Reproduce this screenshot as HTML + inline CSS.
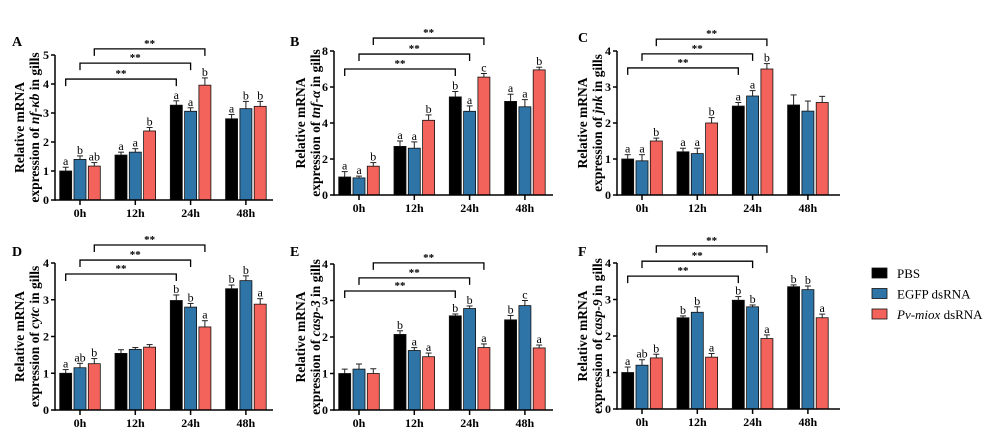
<!DOCTYPE html>
<html><head><meta charset="utf-8">
<style>
body{margin:0;background:#fff;}
svg{display:block;font-family:"Liberation Serif","DejaVu Serif",serif;}
.tk{font-size:12px;font-weight:bold;}
.yt{font-size:13.5px;font-weight:bold;}
.lt{font-size:12px;}
</style></head>
<body>
<svg id="chart" width="997" height="439" viewBox="0 0 997 439" xmlns="http://www.w3.org/2000/svg"></svg>
<script>
const categories = ["0h","12h","24h","48h"];
const seriesNames = ["PBS","EGFP dsRNA","Pv-miox dsRNA"];
const yTicksA = [0,1,2,3,4,5];
const yTicksB = [0,2,4,6,8];
const yTicks4 = [0,1,2,3,4];

const aPBS=[1.0,1.55,3.27,2.8], aEGFP=[1.4,1.65,3.06,3.15], aMiox=[1.17,2.38,3.96,3.23];
const aErrP=[0.13,0.1,0.15,0.15], aErrE=[0.12,0.12,0.12,0.25], aErrM=[0.12,0.12,0.25,0.17];
const aLet=[["a","b","ab"],["a","a","b"],["a","a","b"],["a","b","b"]];
const aBrk=[4.17,4.72,5.21];

const bPBS=[1.0,2.7,5.45,5.2], bEGFP=[0.95,2.6,4.65,4.9], bMiox=[1.6,4.15,6.55,6.95];
const bErrP=[0.3,0.3,0.3,0.4], bErrE=[0.1,0.35,0.3,0.4], bErrM=[0.2,0.3,0.2,0.15];
const bLet=[["a","a","b"],["a","a","b"],["b","a","c"],["a","a","b"]];
const bBrk=[7.0,7.83,8.72];

const cPBS=[1.0,1.2,2.47,2.5], cEGFP=[0.95,1.15,2.75,2.33], cMiox=[1.5,2.0,3.5,2.57];
const cErrP=[0.12,0.1,0.1,0.28], cErrE=[0.17,0.15,0.15,0.28], cErrM=[0.08,0.15,0.15,0.17];
const cLet=[["a","a","b"],["a","a","b"],["a","a","b"],["","",""]];
const cBrk=[3.53,3.92,4.33];

const dPBS=[1.0,1.54,2.98,3.3], dEGFP=[1.15,1.65,2.8,3.52], dMiox=[1.26,1.71,2.26,2.88];
const dErrP=[0.1,0.1,0.15,0.1], dErrE=[0.12,0.05,0.1,0.13], dErrM=[0.14,0.07,0.17,0.15];
const dLet=[["a","ab","b"],["","",""],["b","b","a"],["b","b","a"]];
const dBrk=[3.70,4.08,4.49];

const ePBS=[1.0,2.07,2.58,2.47], eEGFP=[1.12,1.63,2.78,2.86], eMiox=[1.0,1.46,1.71,1.7];
const eErrP=[0.12,0.1,0.05,0.12], eErrE=[0.14,0.08,0.07,0.14], eErrM=[0.13,0.1,0.1,0.08];
const eLet=[["","",""],["b","a","a"],["b","b","a"],["b","c","a"]];
const eBrk=[3.26,3.62,4.03];

const fPBS=[1.0,2.5,2.98,3.35], fEGFP=[1.2,2.65,2.8,3.27], fMiox=[1.4,1.42,1.93,2.5];
const fErrP=[0.15,0.05,0.1,0.05], fErrE=[0.15,0.15,0.05,0.1], fErrM=[0.1,0.1,0.1,0.1];
const fLet=[["a","ab","b"],["b","b","a"],["b","b","a"],["b","b","a"]];
const fBrk=[3.64,4.05,4.47];

const NS="http://www.w3.org/2000/svg";
const svg=document.getElementById("chart");
const colors=["#000000","#2e74a6","#f4635b"];
function mk(tag,parent){const e=document.createElementNS(NS,tag);parent.appendChild(e);return e;}

const panels=[
 {id:"a",L:"A",gene:"nf-κb",ax:55,top:55,bot:200,right:273,ymax:5,ticks:yTicksA,vals:[aPBS,aEGFP,aMiox],errs:[aErrP,aErrE,aErrM],lets:aLet,brk:aBrk,lx:12,ly:46,t1:19,t2:34},
 {id:"b",L:"B",gene:"tnf-α",ax:334,top:51,bot:195,right:553,ymax:8,ticks:yTicksB,vals:[bPBS,bEGFP,bMiox],errs:[bErrP,bErrE,bErrM],lets:bLet,brk:bBrk,lx:290,ly:46,t1:300,t2:315},
 {id:"c",L:"C",gene:"jnk",ax:617,top:51,bot:195,right:840,ymax:4,ticks:yTicks4,vals:[cPBS,cEGFP,cMiox],errs:[cErrP,cErrE,cErrM],lets:cLet,brk:cBrk,lx:578,ly:42,t1:582,t2:597},
 {id:"d",L:"D",gene:"cytc",ax:55,top:263,bot:410,right:273,ymax:4,ticks:yTicks4,vals:[dPBS,dEGFP,dMiox],errs:[dErrP,dErrE,dErrM],lets:dLet,brk:dBrk,lx:12,ly:256,t1:19,t2:34},
 {id:"e",L:"E",gene:"casp-3",ax:334,top:264,bot:410,right:553,ymax:4,ticks:yTicks4,vals:[ePBS,eEGFP,eMiox],errs:[eErrP,eErrE,eErrM],lets:eLet,brk:eBrk,lx:290,ly:256,t1:300,t2:315},
 {id:"f",L:"F",gene:"casp-9",ax:617,top:263,bot:409,right:840,ymax:4,ticks:yTicks4,vals:[fPBS,fEGFP,fMiox],errs:[fErrP,fErrE,fErrM],lets:fLet,brk:fBrk,lx:578,ly:256,t1:582,t2:597}
];

panels.forEach(p=>{
 const g=mk("g",svg);
 
 
 const y=v=>p.bot-(v/p.ymax)*(p.bot-p.top);
 const gx=i=>p.ax+25+i*55.3;
 const pl=mk("text",g);pl.textContent=p.L;
 
 
 pl.setAttribute("x",p.lx);pl.setAttribute("y",p.ly);pl.setAttribute("font-size","14");pl.setAttribute("font-weight","bold");
 const cy=(p.top+p.bot)/2;
 const t1=mk("text",g);t1.textContent="Relative mRNA";t1.setAttribute("class","yt");
 
 
 t1.setAttribute("text-anchor","middle");t1.setAttribute("transform",`translate(${p.t1+5},${cy}) rotate(-90)`);
 const t2=mk("text",g);t2.setAttribute("class","yt");t2.setAttribute("text-anchor","middle");
 
 
 t2.setAttribute("transform",`translate(${p.t2+5},${cy}) rotate(-90)`);
 const s1=mk("tspan",t2);s1.textContent="expression of ";
 const s2=mk("tspan",t2);s2.textContent=p.gene;s2.setAttribute("font-style","italic");
 const s3=mk("tspan",t2);s3.textContent=" in gills";
 for(let s=0;s<3;s++){
  for(let i=0;i<categories.length;i++){
   const v=p.vals[s][i],e=p.errs[s][i];
   const cx=gx(i)+(s-1)*14.3;
   const yb=y(v),ye=y(v+e);
   const el=mk("line",g);
   
   
   el.setAttribute("x1",cx);el.setAttribute("x2",cx);el.setAttribute("y1",yb);el.setAttribute("y2",ye);el.setAttribute("stroke","#222");el.setAttribute("stroke-width","1");
   const cap=mk("line",g);
   
   
   cap.setAttribute("x1",cx-3);cap.setAttribute("x2",cx+3);cap.setAttribute("y1",ye);cap.setAttribute("y2",ye);cap.setAttribute("stroke","#222");cap.setAttribute("stroke-width","1");
   const r=mk("rect",g);
   
   
   r.setAttribute("x",cx-6);r.setAttribute("y",yb);r.setAttribute("width",12);r.setAttribute("height",p.bot-yb);
   r.setAttribute("fill",colors[s]);r.setAttribute("stroke","#111");r.setAttribute("stroke-width","0.8");
   const lt=p.lets[i][s];
   if(lt){const t=mk("text",g);t.textContent=lt;t.setAttribute("class","lt");
    
    
    t.setAttribute("text-anchor","middle");t.setAttribute("x",cx);t.setAttribute("y",ye-2);}
  }
 }
 const ya=mk("line",g);
 
 
 ya.setAttribute("x1",p.ax);ya.setAttribute("x2",p.ax);ya.setAttribute("y1",p.top);ya.setAttribute("y2",p.bot+0.75);ya.setAttribute("stroke","#000");ya.setAttribute("stroke-width","1.5");
 const xa=mk("line",g);
 
 
 xa.setAttribute("x1",p.ax);xa.setAttribute("x2",p.right);xa.setAttribute("y1",p.bot);xa.setAttribute("y2",p.bot);xa.setAttribute("stroke","#000");xa.setAttribute("stroke-width","1.5");
 p.ticks.forEach(tv=>{
  const yy=y(tv);
  const tl=mk("line",g);
  
  
  tl.setAttribute("x1",p.ax-4);tl.setAttribute("x2",p.ax);tl.setAttribute("y1",yy);tl.setAttribute("y2",yy);tl.setAttribute("stroke","#000");tl.setAttribute("stroke-width","1.5");
  const tt=mk("text",g);tt.textContent=tv;tt.setAttribute("class","tk");
  
  
  tt.setAttribute("text-anchor","end");tt.setAttribute("x",p.ax-6);tt.setAttribute("y",yy+4);
 });
 categories.forEach((c,i)=>{
  const xx=gx(i);
  const tl=mk("line",g);
  
  
  tl.setAttribute("x1",xx);tl.setAttribute("x2",xx);tl.setAttribute("y1",p.bot);tl.setAttribute("y2",p.bot+5);tl.setAttribute("stroke","#000");tl.setAttribute("stroke-width","1.5");
  const tt=mk("text",g);tt.textContent=c;tt.setAttribute("class","tk");
  
  
  tt.setAttribute("text-anchor","middle");tt.setAttribute("x",xx);tt.setAttribute("y",p.bot+17);
 });
 p.brk.forEach((bv,k)=>{
  const yy=y(bv);const x1=gx(0)+(k-1)*14.3,x2=gx(2)+(k-1)*14.3;
  const pth=mk("path",g);
  
  
  pth.setAttribute("d",`M${x1},${yy+7}V${yy}H${x2}V${yy+7}`);pth.setAttribute("fill","none");pth.setAttribute("stroke","#000");pth.setAttribute("stroke-width","1.3");
  const st=mk("text",g);st.textContent="**";
  
  
  st.setAttribute("text-anchor","middle");st.setAttribute("x",(x1+x2)/2);st.setAttribute("y",yy-2);st.setAttribute("font-size","11");st.setAttribute("font-weight","bold");
 });
});

const lg=mk("g",svg);


seriesNames.forEach((n,s)=>{
 const yy=273+s*20.5;
 const r=mk("rect",lg);
 
 
 r.setAttribute("x",872);r.setAttribute("y",yy-5);r.setAttribute("width",15);r.setAttribute("height",10);r.setAttribute("fill",colors[s]);r.setAttribute("stroke","#111");r.setAttribute("stroke-width","0.8");
 const t=mk("text",lg);
 
 
 t.setAttribute("x",897);t.setAttribute("y",yy+5);t.setAttribute("font-size","13");
 if(s===2){const a=mk("tspan",t);a.textContent="Pv-miox";a.setAttribute("font-style","italic");const b=mk("tspan",t);b.textContent=" dsRNA";}
 else t.textContent=n;
});
</script>
</body></html>
